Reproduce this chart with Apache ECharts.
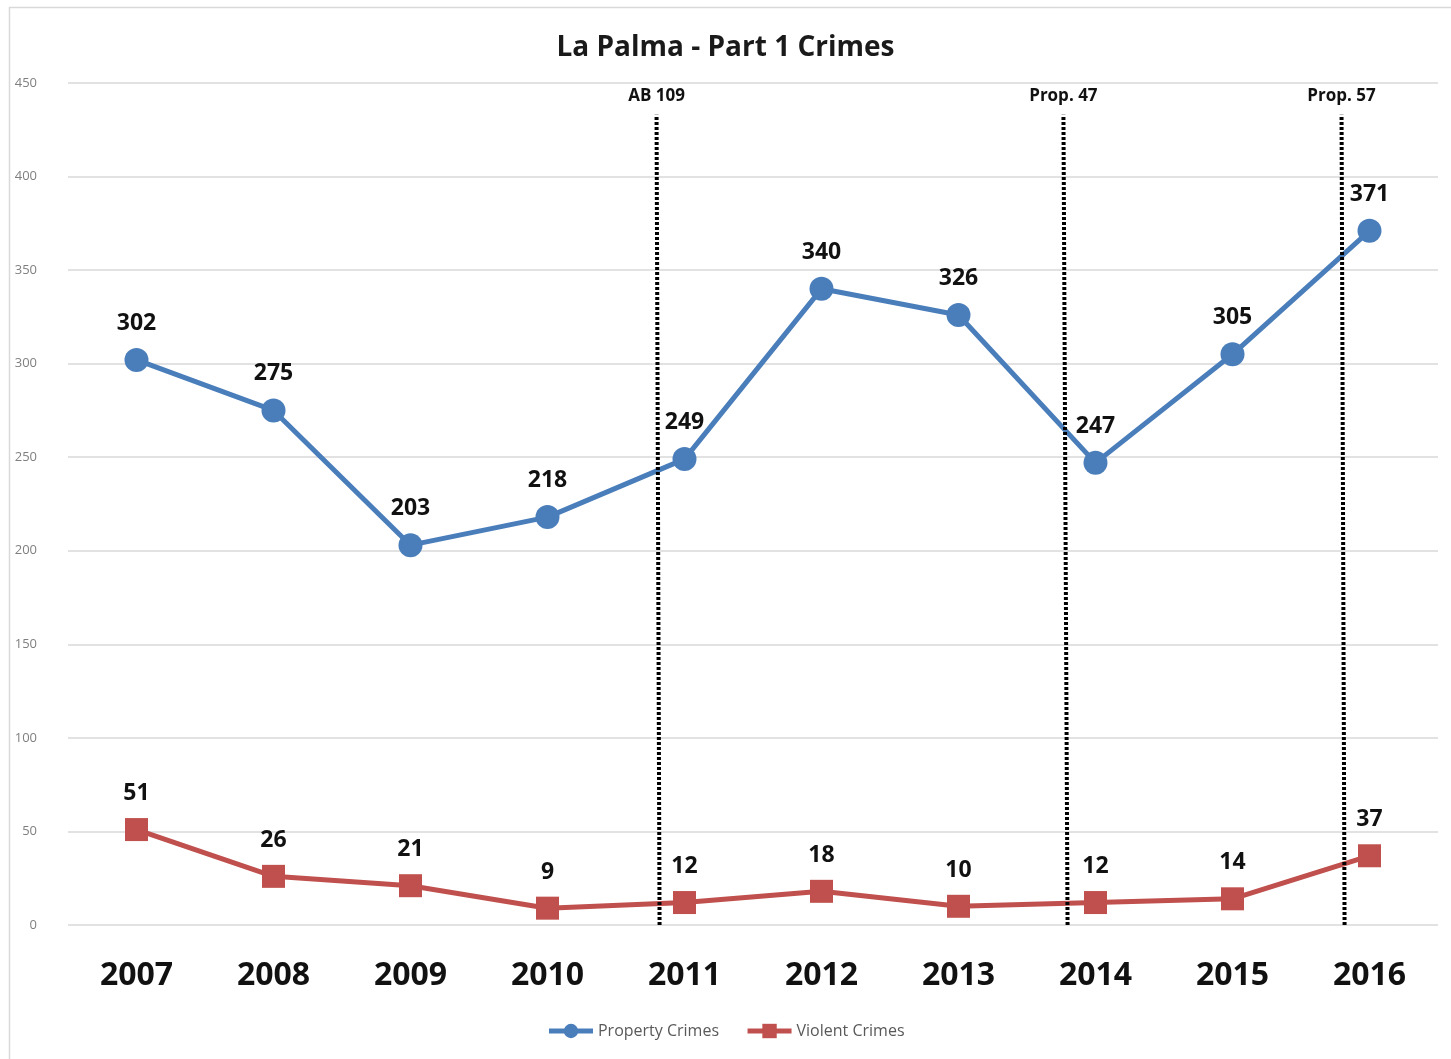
<!DOCTYPE html>
<html>
<head>
<meta charset="utf-8">
<script src="https://cdn.jsdelivr.net/npm/echarts@6/dist/echarts.min.js"></script>
<style>
html,body{margin:0;padding:0;background:#fff;}
#chart{width:1451px;height:1059px;}
</style>
</head>
<body>
<div id="chart"></div>
<script>
const years = ['2007','2008','2009','2010','2011','2012','2013','2014','2015','2016'];
const propertyCrimes = [302, 275, 203, 218, 249, 340, 326, 247, 305, 371];
const violentCrimes = [51, 26, 21, 9, 12, 18, 10, 12, 14, 37];
const yTicks = [0, 50, 100, 150, 200, 250, 300, 350, 400, 450];
// policy markers: [label, x position (category index) at bottom, at top]
const policyNames = ['AB 109', 'Prop. 47', 'Prop. 57'];
const policyBottom = [3.818, 6.796, 8.818];
const policyTop = [3.796, 6.766, 8.796];
const policyLineTop = 433;

const FONT = '"Open Sans", "Noto Sans", sans-serif';
const chart = echarts.init(document.getElementById('chart'));

const markData = policyNames.map((n, i) => [
  { name: n, coord: [policyBottom[i], 0] },
  { coord: [policyTop[i], policyLineTop] }
]);

chart.setOption({
  backgroundColor: '#ffffff',
  animation: false,
  graphic: [{
    type: 'rect', left: 7, top: 5,
    shape: { width: 1470, height: 1080 },
    style: { fill: 'none', stroke: '#d9d9d9', lineWidth: 1.5 }
  }],
  title: {
    text: 'La Palma - Part 1 Crimes',
    left: 'center', top: 29,
    textStyle: { fontFamily: FONT, fontWeight: 'bold', fontSize: 28, color: '#1a1a1a' }
  },
  legend: {
    bottom: 15, left: 'center',
    itemWidth: 44, itemHeight: 18, itemGap: 26,
    lineStyle: { width: 5 },
    textStyle: { fontFamily: FONT, fontSize: 16, color: '#595959' },
    data: ['Property Crimes', 'Violent Crimes']
  },
  grid: { left: 68, right: 13, top: 83, bottom: 134 },
  xAxis: [{
    type: 'category', data: years, boundaryGap: true,
    axisLine: { show: false }, axisTick: { show: false },
    axisLabel: { fontFamily: FONT, fontWeight: 'bold', fontSize: 32, color: '#111', margin: 35 }
  }, {
    type: 'value', min: -0.5, max: 9.5, show: false
  }],
  yAxis: {
    type: 'value', min: yTicks[0], max: yTicks[yTicks.length - 1], interval: 50,
    axisLine: { show: false }, axisTick: { show: false },
    axisLabel: { fontFamily: FONT, fontSize: 13, color: '#7f7f7f', margin: 31 },
    splitLine: { lineStyle: { color: '#d9d9d9', width: 1.5 } }
  },
  series: [{
    name: 'policy', type: 'line', xAxisIndex: 1, data: [],
    silent: true, z: 1,
    markLine: {
      symbol: ['none', 'none'],
      silent: true,
      lineStyle: { color: '#000', width: 4, type: [3, 2] },
      label: {
        show: true, position: 'end', formatter: '{b}', distance: 10,
        fontFamily: FONT, fontWeight: 'bold', fontSize: 17, color: '#111'
      },
      data: markData
    }
  }, {
    name: 'Property Crimes', type: 'line', data: propertyCrimes, z: 3,
    symbol: 'circle', symbolSize: 24,
    itemStyle: { color: '#4a7ebb' },
    lineStyle: { color: '#4a7ebb', width: 5 },
    label: { show: true, position: 'top', distance: 13, fontFamily: FONT, fontWeight: 'bold', fontSize: 23, color: '#111' }
  }, {
    name: 'Violent Crimes', type: 'line', data: violentCrimes, z: 3,
    symbol: 'rect', symbolSize: 23,
    itemStyle: { color: '#c0504d' },
    lineStyle: { color: '#c0504d', width: 5 },
    label: { show: true, position: 'top', distance: 13, fontFamily: FONT, fontWeight: 'bold', fontSize: 23, color: '#111' }
  }]
});
</script>
</body>
</html>
